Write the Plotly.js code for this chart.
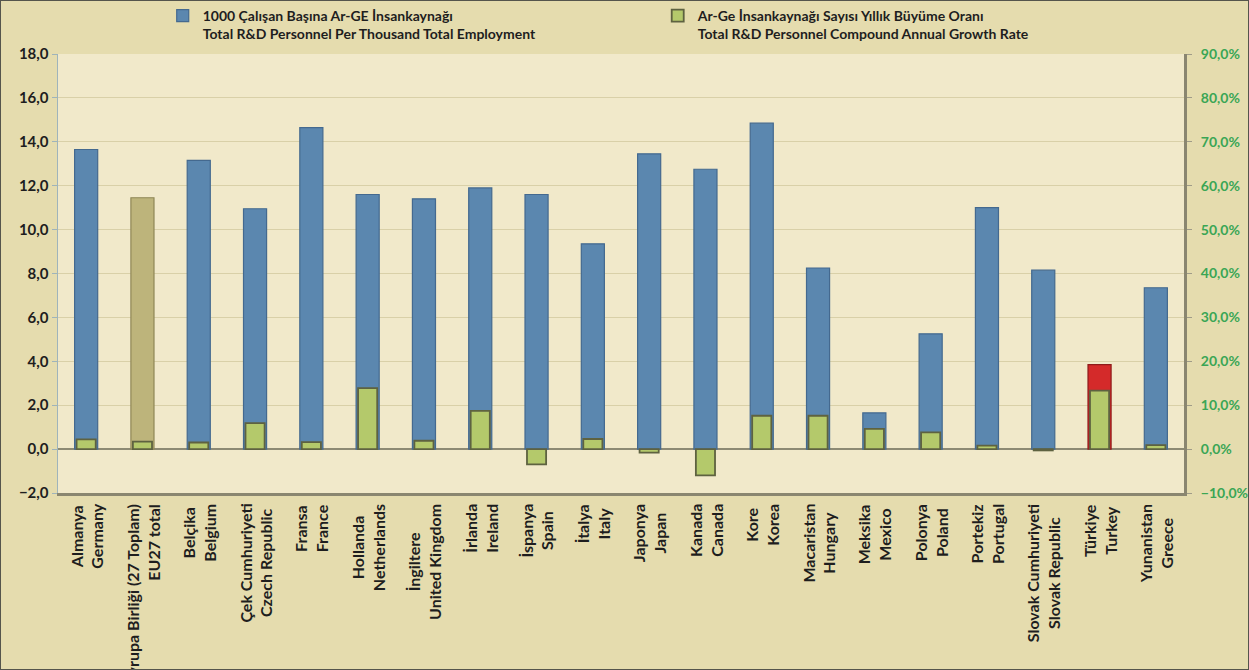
<!DOCTYPE html>
<html><head><meta charset="utf-8">
<script src="https://cdn.plot.ly/plotly-3.0.1.min.js"></script>
<style>
html,body{margin:0;padding:0;background:#e5dcae;}
#wrap{position:relative;width:1249px;height:670px;overflow:hidden;}
#chart{width:1249px;height:670px;}
#frame{position:absolute;left:0;top:0;width:1247px;height:668px;border:1px solid #55554c;pointer-events:none;}
</style></head><body>
<div id="wrap"><div id="chart"></div><div id="frame"></div></div>
<script>
const countriesTR = ["Almanya","Avrupa Birliği (27 Toplam)","Belçika","Çek Cumhuriyeti","Fransa","Hollanda","İngiltere","İrlanda","İspanya","İtalya","Japonya","Kanada","Kore","Macaristan","Meksika","Polonya","Portekiz","Slovak Cumhuriyeti","Türkiye","Yunanistan"];
const countriesEN = ["Germany","EU27 total","Belgium","Czech Republic","France","Netherlands","United Kingdom","Ireland","Spain","Italy","Japan","Canada","Korea","Hungary","Mexico","Poland","Portugal","Slovak Republic","Turkey","Greece"];
const personnelPerThousand = [13.65,11.45,13.15,10.95,14.65,11.6,11.4,11.9,11.6,9.35,13.45,12.75,14.85,8.25,1.65,5.25,11.0,8.15,3.85,7.35];
const growthRatePct = [2.2,1.7,1.5,5.9,1.6,13.9,1.9,8.7,-3.5,2.3,-0.8,-6.0,7.6,7.6,4.6,3.8,0.8,-0.3,13.3,0.9];
const legendNames = [
  "1000 Çalışan Başına Ar-GE İnsankaynağı<br>Total R&D Personnel Per Thousand Total Employment",
  "Ar-Ge İnsankaynağı Sayısı Yıllık Büyüme Oranı<br>Total R&D Personnel Compound Annual Growth Rate"
];

const BLUE = '#5b87af', KHAKI = '#bdb47b', RED = '#d42a2a', GREEN = '#b4c96b';
const barColors = countriesEN.map(c => c === 'EU27 total' ? KHAKI : (c === 'Turkey' ? RED : BLUE));
const barLines = countriesEN.map(c => c === 'EU27 total' ? '#8f8756' : (c === 'Turkey' ? '#8e1b1b' : '#44698f'));

const FONT = 'Lato, "Open Sans", sans-serif';

const traces = [
  {
    type: 'bar', name: legendNames[0], x: countriesEN, y: personnelPerThousand,
    yaxis: 'y', width: 0.41,
    marker: {color: barColors, line: {color: barLines, width: 1.2}},
    hoverinfo: 'x+y'
  },
  {
    type: 'bar', name: legendNames[1], x: countriesEN, y: growthRatePct,
    yaxis: 'y2', width: 0.34,
    marker: {color: GREEN, line: {color: '#5e6240', width: 1.8}},
    hoverinfo: 'x+y'
  }
];

const annotations = countriesEN.map((en, i) => ({
  x: en, xref: 'x', y: 0, yref: 'paper', yanchor: 'top', xanchor: 'center',
  yshift: -9, textangle: -90, showarrow: false,
  align: en === 'EU27 total' ? 'right' : 'center',
  text: countriesTR[i] + '<br>' + en,
  font: {family: FONT, size: 16, weight: 'bold', color: '#1e1e1e'}
}));

const layout = {
  width: 1249, height: 670,
  margin: {l: 58, r: 65, t: 54, b: 177},
  paper_bgcolor: '#e5dcae', plot_bgcolor: '#f1e9ca',
  separators: ', ',
  barmode: 'overlay',
  font: {family: FONT, size: 14, color: '#1e1e1e', weight: 'bold'},
  showlegend: true,
  legend: {
    orientation: 'h', x: 0.093, xanchor: 'left', y: 1.0, yanchor: 'top',
    yref: 'container',
    valign: 'top', bgcolor: 'rgba(0,0,0,0)', borderwidth: 0,
    font: {family: FONT, size: 14, weight: 'bold', color: '#1e1e1e'},
    entrywidth: 450, entrywidthmode: 'pixels', itemwidth: 30
  },
  xaxis: {
    type: 'category', range: [-0.5, countriesEN.length - 0.5],
    showticklabels: false, ticks: '', showgrid: false, zeroline: false,
    showline: true, linecolor: '#8a8670', linewidth: 3
  },
  yaxis: {
    range: [-2, 18], dtick: 2, tickformat: '.1f',
    showgrid: true, gridcolor: '#d9d0a8', gridwidth: 1,
    zeroline: true, zerolinecolor: '#8d8a74', zerolinewidth: 1.5,
    showline: true, linecolor: '#9fb4bb', linewidth: 1.5,
    ticks: 'outside', ticklen: 5, tickcolor: '#9fb4bb',
    tickfont: {family: FONT, size: 15, weight: 'bold', color: '#1e1e1e'}
  },
  yaxis2: {
    overlaying: 'y', side: 'right', range: [-10, 90], dtick: 10,
    tickformat: '.1f', ticksuffix: '%',
    showgrid: false, zeroline: false,
    showline: true, linecolor: '#8a8670', linewidth: 3,
    ticks: 'outside', ticklen: 5, tickcolor: '#a09c88', ticklabelstandoff: 6,
    tickfont: {family: FONT, size: 14, weight: 'bold', color: '#3aa655'}
  },
  annotations: annotations
};

Plotly.newPlot('chart', traces, layout, {displayModeBar: false, staticPlot: true});
</script>
</body></html>
